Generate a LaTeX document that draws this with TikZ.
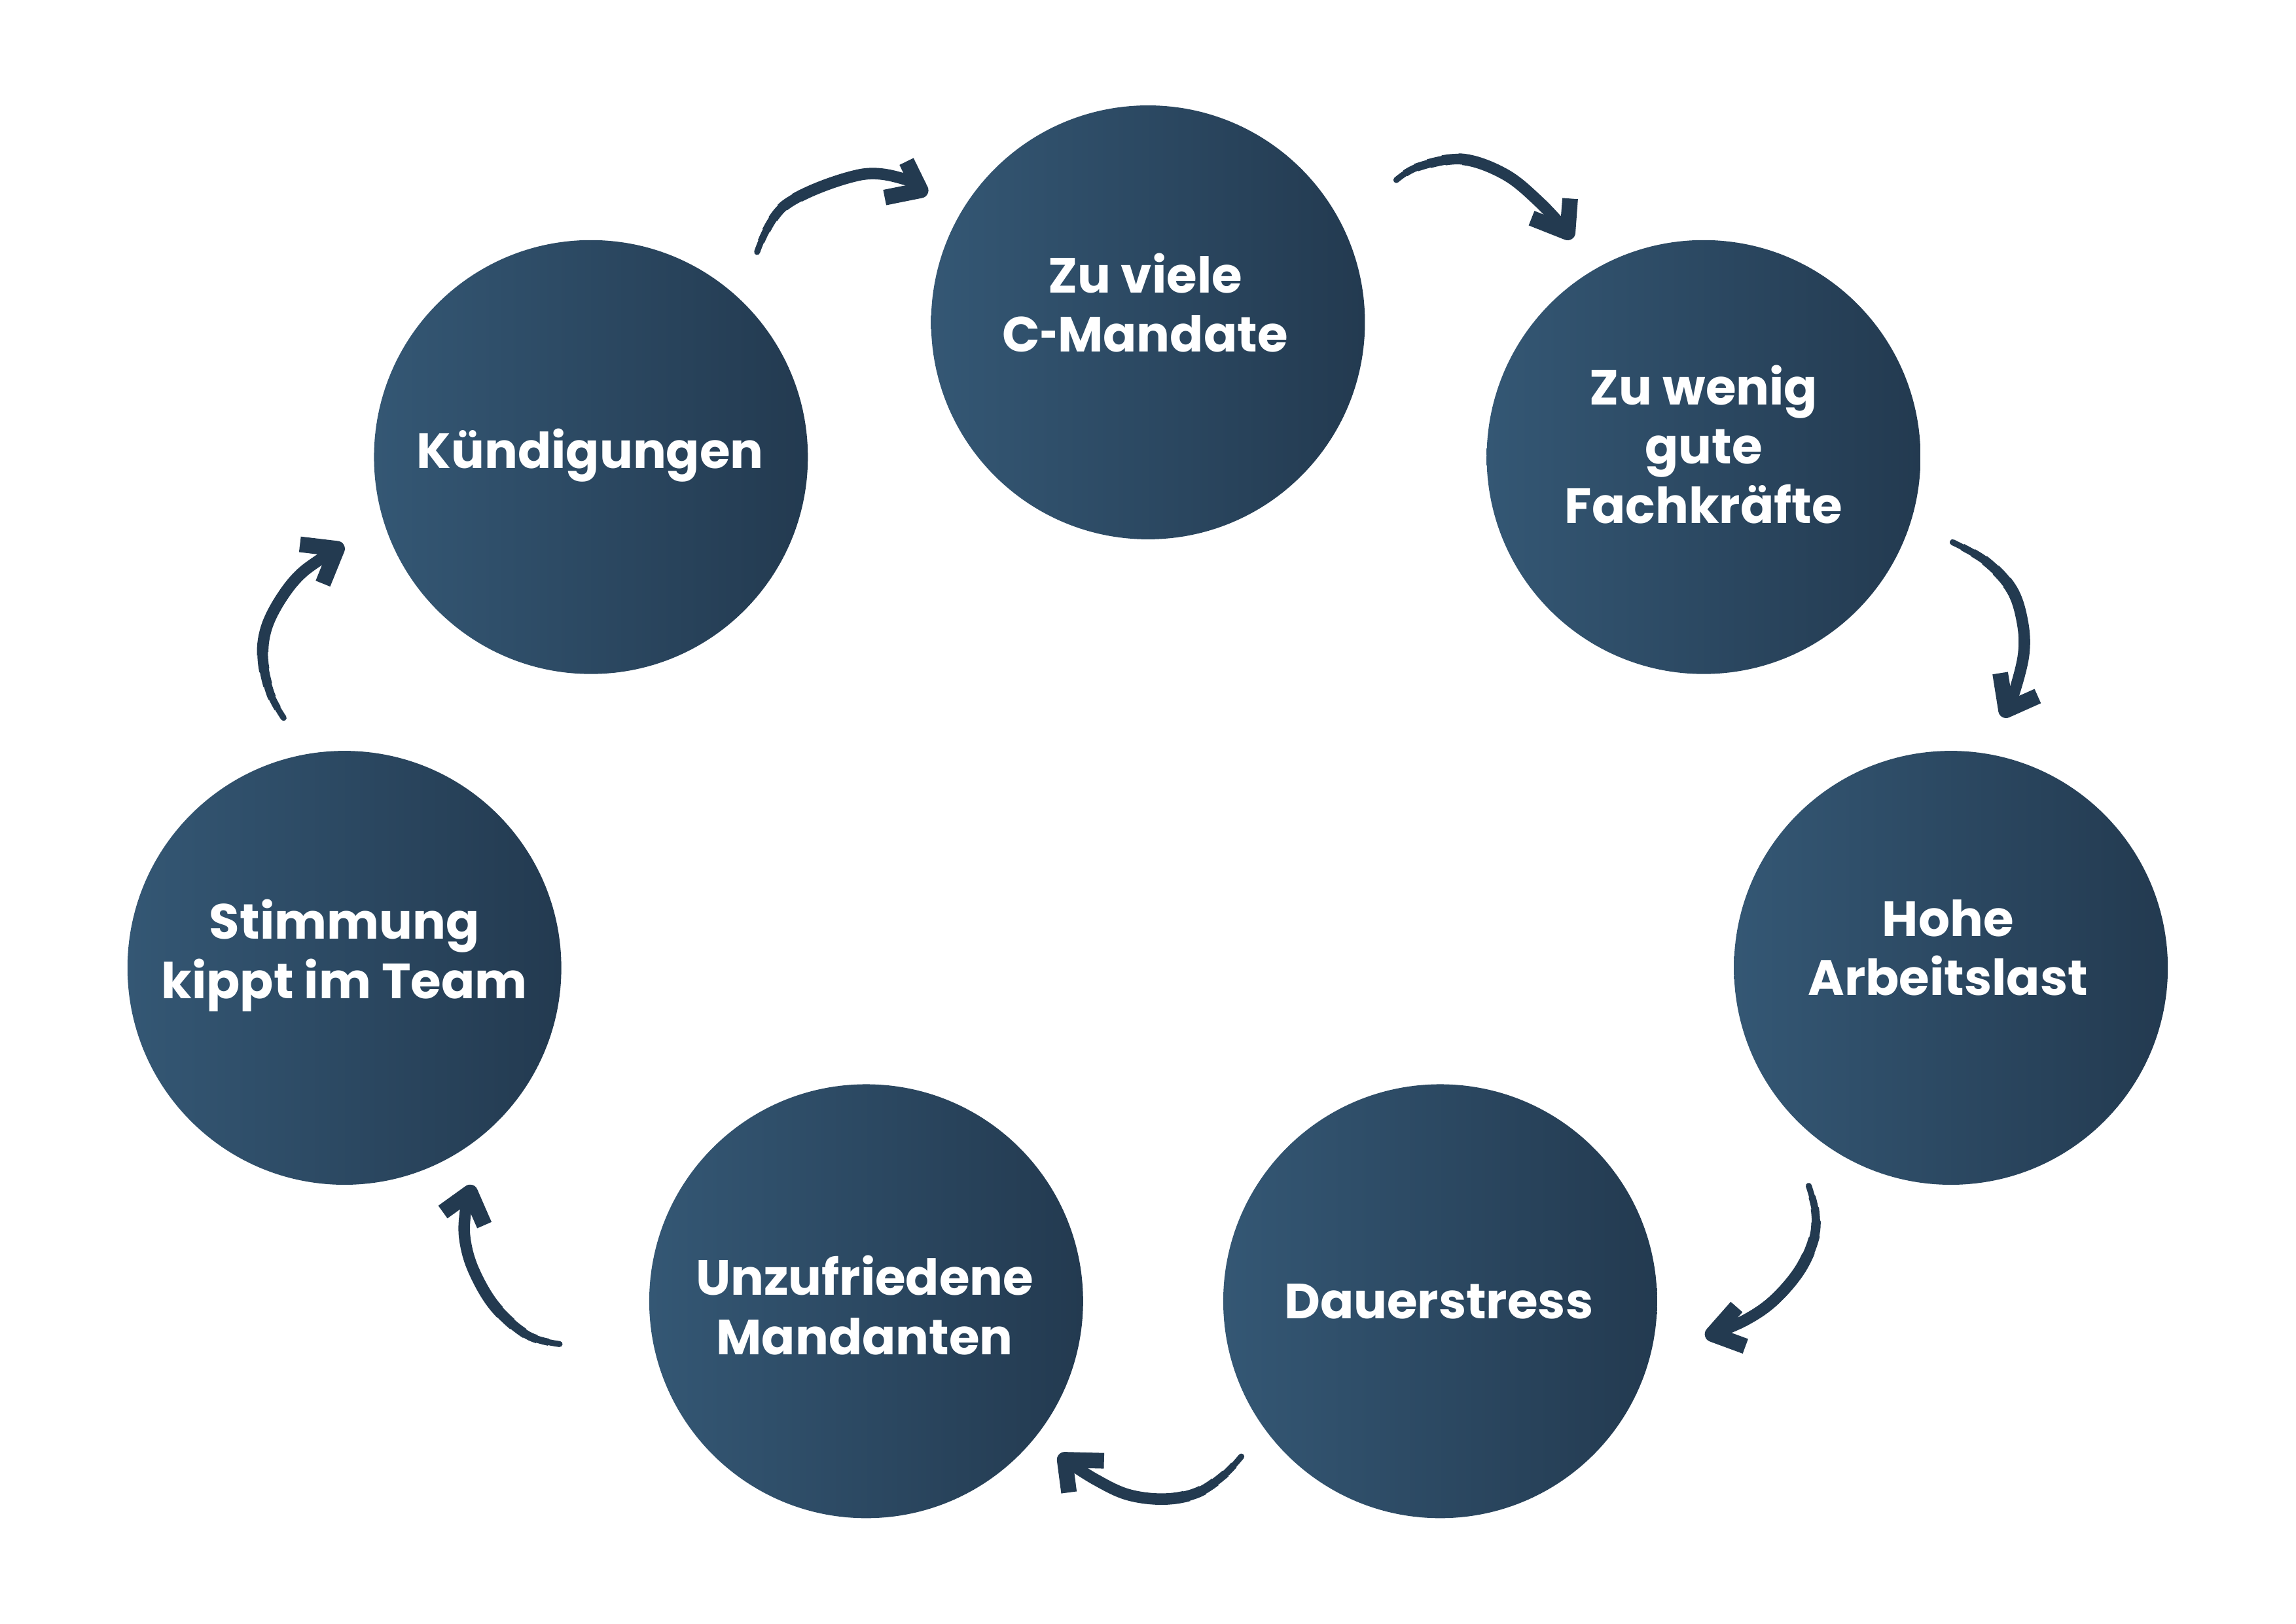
\documentclass[tikz,border=0pt]{standalone}
\usepackage{fontspec}
\usepackage{graphicx}
\setmainfont{Poppins}
\definecolor{bubL}{HTML}{345774}
\definecolor{bubR}{HTML}{233A50}
\definecolor{arrowcol}{HTML}{233A50}
\tikzset{
  bubble/.style={circle, minimum size=6.63cm, inner sep=0pt, left color=bubL, right color=bubR, draw=none},
  lbl/.style={anchor=base, text=white, inner sep=0pt, font=\fontsize{21.5}{25.8}\selectfont\bfseries},
  shaft/.style={draw=arrowcol, line cap=round, line join=round},
  arrowhead/.style={draw=arrowcol, line width=6.8pt, line cap=butt, line join=round}
}
\newcommand{\twolines}[2]{\begin{tabular}[t]{@{}c@{}}#1\\#2\end{tabular}}
\newcommand{\threelines}[3]{\begin{tabular}[t]{@{}c@{}}#1\\#2\\#3\end{tabular}}
\newcommand{\shorthyph}{\scalebox{0.62}[1]{-}}
% tapered brush stroke: #1 = tail coordinate, #2 = path
\newcommand{\brushstroke}[2]{%
  \draw[shaft, line width=2.6pt] #2;
  \foreach \brD/\brW in {8/3.1,16/3.6,25/4.1,35/4.6,46/5.0}{%
    \begin{scope}[even odd rule]
      \clip (-20,-20) -- (-20,1123) -- (1580,1123) -- (1580,-20) -- cycle (#1) circle (\brD);
      \draw[shaft, line width=\brW pt] #2;
    \end{scope}}%
}
\begin{document}
\begin{tikzpicture}[x=0.022487cm, y=-0.022487cm]
\useasboundingbox (0,0) rectangle (1560,1102.9);
\fill[white] (0,0) rectangle (1560,1102.9);

% circles
\node[bubble] (n1) at (401.5,310.5) {};
\node[bubble] (n2) at (780,219) {};
\node[bubble] (n3) at (1157.5,310.5) {};
\node[bubble] (n4) at (1325.5,657.5) {};
\node[bubble] (n5) at (978.5,884) {};
\node[bubble] (n6) at (588.5,884) {};
\node[bubble] (n7) at (234,657.5) {};

% labels
\node[lbl] (t1) at (401,318) {Kündigungen};
\node[lbl] (t2) at (778,198.9) {\twolines{Zu viele}{C\shorthyph Mandate}};
\node[lbl] (t3) at (1157.5,274.9) {\threelines{Zu wenig}{gute}{Fachkräfte}};
\node[lbl] (t4) at (1323.5,636) {\twolines{Hohe}{Arbeitslast}};
\node[lbl] (t5) at (977.5,896) {Dauerstress};
\node[lbl] (t6) at (587.5,880) {\twolines{Unzufriedene}{Mandanten}};
\node[lbl] (t7) at (234,638) {\twolines{Stimmung}{kippt im Team}};

% arrow 1: Kuendigungen -> C-Mandate
\coordinate (a1s) at (514.4,171.2);
\coordinate (a1e) at (625.5,129.3);
\coordinate (a1u) at (615.9,109.7);
\coordinate (a1l) at (601.1,134.2);
\brushstroke{a1s}{plot[smooth, tension=0.6] coordinates {(a1s) (533.6,139.3) (584,118.8) (616.7,122.3) (a1e)}}
\draw[arrowhead] (a1u) -- (a1e) -- (a1l);

% arrow 2: C-Mandate -> Fachkraefte
\coordinate (a2s) at (948.7,122.3);
\coordinate (a2e) at (1065.1,157.9);
\coordinate (a2u) at (1066.8,134.9);
\coordinate (a2l) at (1040.6,148.2);
\brushstroke{a2s}{plot[smooth, tension=0.6] coordinates {(a2s) (963.5,113.4) (993.2,108.2) (1022.8,118.6) (1046.5,137.9) (a2e)}}
\draw[arrowhead] (a2u) -- (a2e) -- (a2l);

% arrow 3: Fachkraefte -> Hohe Arbeitslast
\coordinate (a3s) at (1326.7,368.4);
\coordinate (a3e) at (1363,482.5);
\coordinate (a3u) at (1359,457.3);
\coordinate (a3l) at (1384.5,472.9);
\brushstroke{a3s}{plot[smooth, tension=0.6] coordinates {(a3s) (1348.9,381) (1366.7,400.2) (1374.1,422.5) (1374.9,444.7) (1368.2,471.4) (a3e)}}
\draw[arrowhead] (a3u) -- (a3e) -- (a3l);

% arrow 4: Hohe Arbeitslast -> Dauerstress
\coordinate (a4s) at (1228.9,805.6);
\coordinate (a4e) at (1163.6,906.4);
\coordinate (a4u) at (1179.9,887.9);
\coordinate (a4l) at (1185.9,914.6);
\brushstroke{a4s}{plot[smooth, tension=0.6] coordinates {(a4s) (1233.3,822.7) (1232.6,840.5) (1222.9,862.7) (1205.1,883.5) (1185.9,896.8) (a4e)}}
\draw[arrowhead] (a4u) -- (a4e) -- (a4l);

% arrow 5: Dauerstress -> Unzufriedene Mandanten
\coordinate (a5s) at (843.4,989.5);
\coordinate (a5e) at (723.4,991.7);
\coordinate (a5u) at (750.1,992.4);
\coordinate (a5l) at (726.3,1013.9);
\brushstroke{a5s}{plot[smooth, tension=0.6] coordinates {(a5s) (831.6,1002) (813.8,1013.9) (791.6,1018.4) (766.4,1015.4) (744.1,1005) (a5e)}}
\draw[arrowhead] (a5u) -- (a5e) -- (a5l);

% arrow 6: Unzufriedene Mandanten -> Stimmung
\coordinate (a6s) at (380.2,913.1);
\coordinate (a6e) at (319.4,810.1);
\coordinate (a6u) at (300.9,823.4);
\coordinate (a6l) at (329.1,832.3);
\brushstroke{a6s}{plot[smooth, tension=0.6] coordinates {(a6s) (358.7,907.2) (336.5,887.9) (321.7,862.7) (315.7,840.5) (316.5,821.2) (a6e)}}
\draw[arrowhead] (a6u) -- (a6e) -- (a6l);

% arrow 7: Stimmung -> Kuendigungen
\coordinate (a7s) at (192.7,487.7);
\coordinate (a7e) at (229,372.8);
\coordinate (a7u) at (203.8,369.8);
\coordinate (a7l) at (219.4,396.5);
\brushstroke{a7s}{plot[smooth, tension=0.6] coordinates {(a7s) (183.8,471.4) (178.6,447.7) (180.9,426.9) (191.2,406.2) (206,388.4) (a7e)}}
\draw[arrowhead] (a7u) -- (a7e) -- (a7l);
\end{tikzpicture}
\end{document}
